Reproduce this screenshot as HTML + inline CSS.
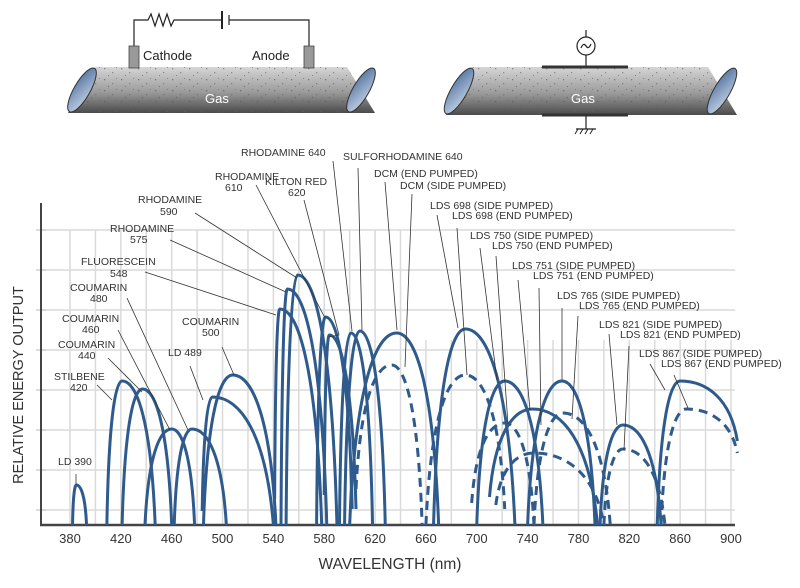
<!DOCTYPE html>
<html><head><meta charset="utf-8"><style>
html,body{margin:0;padding:0;background:#fff;}
svg{display:block;font-family:"Liberation Sans",sans-serif;}
.lbl{font-size:10.5px;fill:#333;}
.ld{stroke:#333;stroke-width:0.8;fill:none;}
</style></head><body>
<svg width="800" height="588" viewBox="0 0 800 588">
<defs>
<linearGradient id="tube" x1="0" y1="0" x2="0" y2="1">
<stop offset="0" stop-color="#d6d6d6"/><stop offset="0.55" stop-color="#9a9a9a"/><stop offset="1" stop-color="#4a4a4a"/>
</linearGradient>
<linearGradient id="win" x1="0" y1="0" x2="1" y2="1">
<stop offset="0" stop-color="#4d6f9e"/><stop offset="1" stop-color="#c9d6e8"/>
</linearGradient>
<pattern id="dots" width="17" height="11" patternUnits="userSpaceOnUse">
<rect x="2" y="2" width="1.3" height="1.3" fill="#555"/><rect x="10" y="6" width="1.3" height="1.3" fill="#666"/><rect x="6" y="9" width="1" height="1" fill="#555"/><rect x="14" y="1" width="1" height="1" fill="#666"/>
</pattern>
</defs>

<g>
<path d="M95,67 L347,67 L375,113 L68,113 Z" fill="url(#tube)"/>
<path d="M95,67 L347,67 L375,113 L68,113 Z" fill="url(#dots)" opacity="0.6"/>
<ellipse cx="82" cy="90" rx="8" ry="25" transform="rotate(30 82 90)" fill="url(#win)" stroke="#333" stroke-width="1"/>
<ellipse cx="361" cy="90" rx="8" ry="25" transform="rotate(30 361 90)" fill="url(#win)" stroke="#333" stroke-width="1"/>
<g fill="none" stroke="#222" stroke-width="1.2">
<polyline points="134,47 134,20 148,20 151,14 155,26 159,14 163,26 167,14 171,26 174,20 222,20"/>
<line x1="222" y1="11" x2="222" y2="29" stroke-width="2"/>
<line x1="229" y1="15" x2="229" y2="25"/>
<polyline points="229,20 309,20 309,47"/>
</g>
<rect x="129" y="46" width="10" height="22" fill="#999" stroke="#444" stroke-width="0.8"/>
<rect x="304" y="46" width="10" height="22" fill="#999" stroke="#444" stroke-width="0.8"/>
<text x="143" y="60" font-size="13" fill="#222">Cathode</text>
<text x="252" y="60" font-size="13" fill="#222">Anode</text>
<text x="205" y="103" font-size="13" fill="#fff">Gas</text>
</g>

<g>
<path d="M472,67 L708,67 L737,115 L446,115 Z" fill="url(#tube)"/>
<path d="M472,67 L708,67 L737,115 L446,115 Z" fill="url(#dots)" opacity="0.6"/>
<ellipse cx="459" cy="91" rx="8" ry="26" transform="rotate(30 459 91)" fill="url(#win)" stroke="#333" stroke-width="1"/>
<ellipse cx="722" cy="91" rx="8" ry="26" transform="rotate(30 722 91)" fill="url(#win)" stroke="#333" stroke-width="1"/>
<line x1="542" y1="67" x2="628" y2="67" stroke="#333" stroke-width="3"/>
<line x1="542" y1="115" x2="628" y2="115" stroke="#333" stroke-width="3"/>
<line x1="586" y1="30" x2="586" y2="66" stroke="#222" stroke-width="1.2"/>
<circle cx="586" cy="46" r="9" fill="#fff" stroke="#222" stroke-width="1.2"/>
<path d="M581,48 q2.5,-6 5,-2 t5,-2" fill="none" stroke="#222" stroke-width="1.2"/>
<line x1="586" y1="116" x2="586" y2="129" stroke="#222" stroke-width="1.2"/>
<line x1="576" y1="129" x2="596" y2="129" stroke="#222" stroke-width="1.2"/>
<path d="M578,129 l-3,5 M583,129 l-3,5 M588,129 l-3,5 M593,129 l-3,5" stroke="#222" stroke-width="1"/>
<text x="571" y="103" font-size="13" fill="#fff">Gas</text>
</g>

<g id="grid"></g>
<g id="axes"></g>
<g id="curves"></g>
<g id="annot"></g>
<text x="390" y="569" font-size="15.5" fill="#333" text-anchor="middle">WAVELENGTH (nm)</text>
<text transform="translate(23,385) rotate(-90)" font-size="14.5" fill="#333" text-anchor="middle">RELATIVE ENERGY OUTPUT</text>
</svg>
<script>
const dyeNames=["ld-390","stilbene-420","coumarin-440","coumarin-460","coumarin-480","ld-489","coumarin-500","fluorescein-548","rhodamine-575","rhodamine-590","rhodamine-610","kilton-red-620","rhodamine-640","sulforhodamine-640","dcm-end","dcm-side","lds698-side","lds698-end","lds750-side","lds750-end","lds751-side","lds751-end","lds765-side","lds765-end","lds821-side","lds821-end","lds867-side","lds867-end"];
const peakNm=[385,421,437,460,476,492,508,545,551,559,581,584,601,608,637,633,691,691,722,722,744,745,767,768,815,815,860,865];
const peakVal=[1.0,3.6,3.4,2.4,2.4,3.2,3.75,5.4,5.9,6.25,5.2,4.75,4.8,4.85,4.8,4.0,4.9,3.75,3.6,2.55,2.9,1.8,3.6,2.8,2.5,1.9,3.6,2.9];
const startNm=[382,409,421,439,462,484,485,541,546,550,574,580,592,596,600,605,666,660,700,696,710,715,740,745,797,800,842,845];
const startVal=[0,0,0,0,0,0.35,0,0.65,0,0,0,0.75,0,0,0,0.9,0,0,0,0.55,0.7,0.5,0,0,0,0,0,0];
const endNm=[393,447,460,478,503,540,542,578,582,590,602,605,618,628,670,657,730,722,752,745,795,800,793,805,845,848,905,905];
const endVal=[0,0,0,0,0,0,0,0,0,0,0.4,0.4,0,0,0,0,0,0.4,0,0,0,0,0,0,0,0,2.1,1.8];
const dashed=[0,0,0,0,0,0,0,0,0,0,0,0,0,0,0,1,0,1,0,1,0,1,0,1,0,1,0,1];
const xTicks=[380,420,460,500,540,580,620,660,700,740,780,820,860,900];

const NS="http://www.w3.org/2000/svg";
const X=w=>70+(w-380)*(661/520);
const Y=v=>525-v*40;
function mk(tag,attrs,parent){const e=document.createElementNS(NS,tag);for(const k in attrs)e.setAttribute(k,attrs[k]);parent.appendChild(e);return e;}

const grid=document.getElementById('grid');
for(let k=0;k<8;k++){
  const gl=mk('line',{x1:41,x2:735,y1:510-40*k,y2:510-40*k,stroke:'#dadada','stroke-width':1.5},grid);
  
  
  const t=mk('line',{x1:36,x2:46,y1:510-40*k,y2:510-40*k,stroke:'#bbb','stroke-width':1},grid);
  
  
}
for(let w=380;w<=900;w+=20){
  const top=w>=660?340:230;
  const vl=mk('line',{x1:X(w),x2:X(w),y1:top,y2:525,stroke:'#dadada','stroke-width':1.5},grid);
  
  
}
const axes=document.getElementById('axes');
const xa=mk('line',{x1:40,x2:735,y1:525,y2:525,stroke:'#444','stroke-width':2.5},axes);


const ya=mk('line',{x1:41,x2:41,y1:203,y2:526,stroke:'#444','stroke-width':2},axes);


xTicks.forEach(w=>{
  const t=mk('text',{x:X(w),y:543,'font-size':13,fill:'#333','text-anchor':'middle'},axes);
  t.textContent=w;
  
  
});

const curves=document.getElementById('curves');
for(let i=0;i<peakNm.length;i++){
  const s=startNm[i],p=peakNm[i],e=endNm[i],h=peakVal[i],sv=startVal[i],ev=endVal[i];
  const d=`M${X(s)},${Y(sv)} C${X(s+(p-s)*0.12)},${Y(sv+(h-sv)*0.72)} ${X(p-(p-s)*0.45)},${Y(h)} ${X(p)},${Y(h)} C${X(p+(e-p)*0.45)},${Y(h)} ${X(e-(e-p)*0.12)},${Y(ev+(h-ev)*0.72)} ${X(e)},${Y(ev)}`;
  const c=mk('path',{d:d,fill:'none',stroke:'#2f5b8c','stroke-width':3,'stroke-dasharray':dashed[i]?'9,6':'none'},curves);
  
  
}

const annot=document.getElementById('annot');
const labels=[
 ["RHODAMINE 640",241,156,[[333,161],[352,331]]],
 ["SULFORHODAMINE 640",343,160,[[358,168],[362,330]]],
 ["DCM (END PUMPED)",374,177,[[385,182],[397,330]]],
 ["DCM (SIDE PUMPED)",400,189,[[412,194],[405,367]]],
 ["KILTON RED",265,185,[[304,200],[339,335],[329,337]]],
 ["620",288,196,null],
 ["RHODAMINE",215,180,[[256,185],[325,318]]],
 ["610",225,191,null],
 ["RHODAMINE",138,203,[[195,213],[297,278]]],
 ["590",160,215,null],
 ["RHODAMINE",110,232,[[170,240],[286,292]]],
 ["575",130,243,null],
 ["FLUORESCEIN",81,265,[[145,272],[276,315]]],
 ["548",110,277,null],
 ["COUMARIN",70,291,[[127,298],[188,430]]],
 ["480",90,302,null],
 ["COUMARIN",62,322,[[118,330],[170,430]]],
 ["460",82,333,null],
 ["COUMARIN",58,348,[[108,358],[142,392]]],
 ["440",78,359,null],
 ["STILBENE",54,380,[[97,385],[112,400]]],
 ["420",70,391,null],
 ["COUMARIN",182,325,[[222,347],[234,375]]],
 ["500",202,336,null],
 ["LD 489",168,356,[[190,366],[203,400]]],
 ["LD 390",58,465,[[76,474],[76,485]]],
 ["LDS 698 (SIDE PUMPED)",430,209,[[437,215],[458,328]]],
 ["LDS 698 (END PUMPED)",452,219,[[457,228],[467,375]]],
 ["LDS 750 (SIDE PUMPED)",470,239,[[480,248],[497,380]]],
 ["LDS 750 (END PUMPED)",492,249,[[496,256],[508,424]]],
 ["LDS 751 (SIDE PUMPED)",512,269,[[518,280],[530,410]]],
 ["LDS 751 (END PUMPED)",533,279,[[539,288],[541,425]]],
 ["LDS 765 (SIDE PUMPED)",557,299,[[562,308],[562,380]]],
 ["LDS 765 (END PUMPED)",579,309,[[578,316],[572,419]]],
 ["LDS 821 (SIDE PUMPED)",599,328,[[609,334],[617,425]]],
 ["LDS 821 (END PUMPED)",620,338,[[629,346],[624,450]]],
 ["LDS 867 (SIDE PUMPED)",639,357,[[650,364],[665,390]]],
 ["LDS 867 (END PUMPED)",661,367,[[674,375],[688,408]]]
];
labels.forEach(l=>{
  const t=mk('text',{x:l[1],y:l[2],class:'lbl'},annot);
  t.textContent=l[0];
  
  
  if(l[3]){
    const pl=mk('polyline',{points:l[3].map(p=>p.join(',')).join(' '),class:'ld'},annot);
    
    
  }
});
</script>
</body></html>
